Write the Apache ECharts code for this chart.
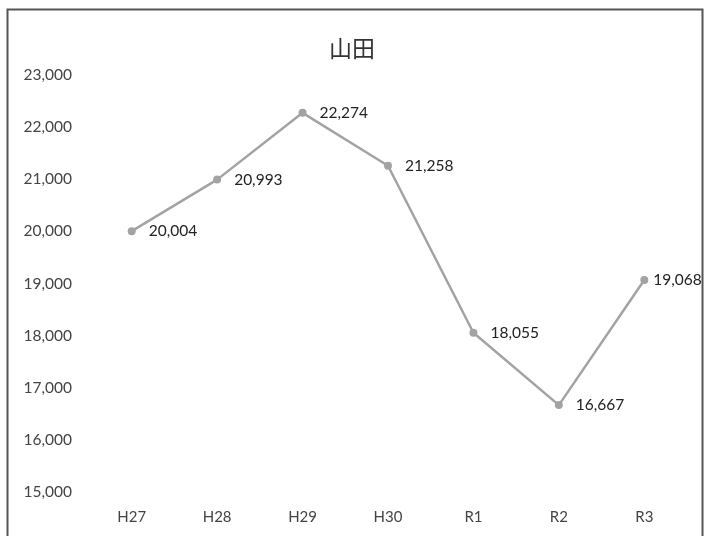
<!DOCTYPE html>
<html>
<head>
<meta charset="utf-8">
<script src="https://cdn.jsdelivr.net/npm/echarts@6/dist/echarts.min.js"></script>
<style>html,body{margin:0;padding:0;background:#fff;}#c{width:704px;height:536px;}</style>
</head>
<body>
<div id="c"></div>
<script>
const categories = ['H27', 'H28', 'H29', 'H30', 'R1', 'R2', 'R3'];
const values = [20004, 20993, 22274, 21258, 18055, 16667, 19068];
const yTicks = { min: 15000, max: 23000, interval: 1000 };
const titleText = '山田';

const seriesData = values.map((v, i) =>
  i === values.length - 1 ? { value: v, label: { distance: 5 } } : v
);

const chart = echarts.init(document.getElementById('c'));
chart.setOption({
  backgroundColor: '#ffffff',
  animation: false,
  title: {
    text: titleText, left: 'center', top: 32,
    textStyle: { fontFamily: 'Noto Sans CJK JP', fontSize: 23, fontWeight: 'normal', color: '#333' }
  },
  graphic: [{
    type: 'rect', shape: { x: 7.5, y: 9.5, width: 695, height: 540 },
    style: { fill: 'none', stroke: '#555', lineWidth: 2 }, silent: true
  }],
  grid: { left: 89, right: 17, top: 75, bottom: 44 },
  xAxis: {
    type: 'category', data: categories, boundaryGap: true,
    axisLine: { show: false }, axisTick: { show: false },
    axisLabel: { margin: 18, fontFamily: 'Lato', fontSize: 15, color: '#444' }
  },
  yAxis: {
    type: 'value', min: yTicks.min, max: yTicks.max, interval: yTicks.interval,
    axisLine: { show: false }, axisTick: { show: false }, splitLine: { show: false },
    axisLabel: {
      margin: 17, fontFamily: 'Lato', fontSize: 15.5, color: '#444',
      formatter: v => v.toLocaleString('en-US')
    }
  },
  series: [{
    type: 'line', data: seriesData,
    symbol: 'circle', symbolSize: 8,
    lineStyle: { color: '#a3a3a3', width: 2.5 },
    itemStyle: { color: '#a3a3a3' },
    label: {
      show: true, position: 'right', distance: 13,
      fontFamily: 'Lato', fontSize: 15.5, color: '#222',
      formatter: p => p.value.toLocaleString('en-US')
    }
  }]
});
</script>
</body>
</html>
